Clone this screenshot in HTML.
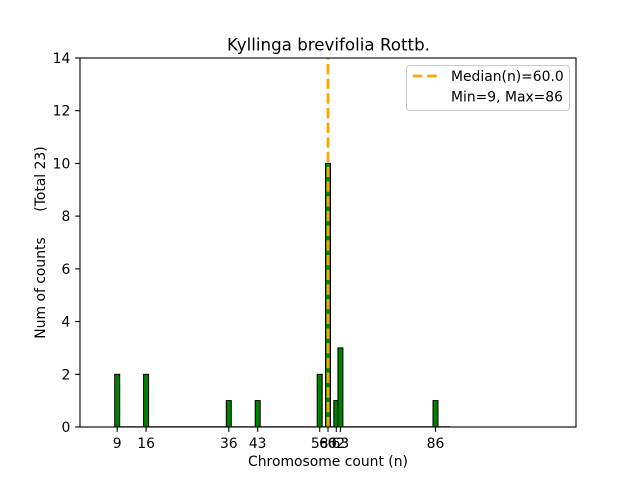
<!DOCTYPE html>
<html>
<head>
<meta charset="utf-8">
<style>
  html,body{margin:0;padding:0;background:#fff;}
  svg{display:block;}
  text{font-family:"DejaVu Sans","Liberation Sans",sans-serif;fill:#000;}
</style>
</head>
<body>
<svg width="640" height="480" viewBox="0 0 640 480" xmlns="http://www.w3.org/2000/svg">
  <rect x="0" y="0" width="640" height="480" fill="#fff"/>

  <!-- zero-height bar edges -->
  <line x1="115" y1="426.5" x2="450" y2="426.5" stroke="#909090" stroke-width="1"/>

  <!-- bars -->
  <g fill="#008000" stroke="#000" stroke-width="1">
    <rect x="114.7" y="374.3" width="5" height="52.7"/>
    <rect x="143.6" y="374.3" width="5" height="52.7"/>
    <rect x="226.3" y="400.6" width="5" height="26.4"/>
    <rect x="255.2" y="400.6" width="5" height="26.4"/>
    <rect x="317.2" y="374.3" width="5" height="52.7"/>
    <rect x="325.5" y="163.4" width="5" height="263.6"/>
    <rect x="333.8" y="400.6" width="5" height="26.4"/>
    <rect x="337.9" y="347.9" width="5" height="79.1"/>
    <rect x="433" y="400.6" width="5" height="26.4"/>
  </g>

  <!-- median line -->
  <line x1="328" y1="427" x2="328" y2="58" stroke="#ffa500" stroke-width="2.78" stroke-dasharray="10.3 4.4"/>

  <!-- axes frame -->
  <rect x="80" y="58" width="496" height="369" fill="none" stroke="#000" stroke-width="1.1"/>

  <!-- x ticks -->
  <g stroke="#000" stroke-width="1.1">
    <line x1="117.2" y1="427" x2="117.2" y2="431.9"/>
    <line x1="146.1" y1="427" x2="146.1" y2="431.9"/>
    <line x1="228.8" y1="427" x2="228.8" y2="431.9"/>
    <line x1="257.7" y1="427" x2="257.7" y2="431.9"/>
    <line x1="319.7" y1="427" x2="319.7" y2="431.9"/>
    <line x1="328" y1="427" x2="328" y2="431.9"/>
    <line x1="336.3" y1="427" x2="336.3" y2="431.9"/>
    <line x1="340.4" y1="427" x2="340.4" y2="431.9"/>
    <line x1="435.5" y1="427" x2="435.5" y2="431.9"/>
  </g>
  <g font-size="13.9" text-anchor="middle">
    <text x="117.2" y="448">9</text>
    <text x="146.1" y="448">16</text>
    <text x="228.8" y="448">36</text>
    <text x="257.7" y="448">43</text>
    <text x="319.7" y="448">58</text>
    <text x="328" y="448">60</text>
    <text x="336.3" y="448">62</text>
    <text x="340.4" y="448">63</text>
    <text x="435.5" y="448">86</text>
  </g>

  <!-- y ticks -->
  <g stroke="#000" stroke-width="1.1">
    <line x1="75.1" y1="427" x2="80" y2="427"/>
    <line x1="75.1" y1="374.3" x2="80" y2="374.3"/>
    <line x1="75.1" y1="321.6" x2="80" y2="321.6"/>
    <line x1="75.1" y1="268.9" x2="80" y2="268.9"/>
    <line x1="75.1" y1="216.1" x2="80" y2="216.1"/>
    <line x1="75.1" y1="163.4" x2="80" y2="163.4"/>
    <line x1="75.1" y1="110.7" x2="80" y2="110.7"/>
    <line x1="75.1" y1="58" x2="80" y2="58"/>
  </g>
  <g font-size="13.9" text-anchor="end">
    <text x="70.3" y="432">0</text>
    <text x="70.3" y="379.3">2</text>
    <text x="70.3" y="326.6">4</text>
    <text x="70.3" y="273.9">6</text>
    <text x="70.3" y="221.1">8</text>
    <text x="70.3" y="168.4">10</text>
    <text x="70.3" y="115.7">12</text>
    <text x="70.3" y="63">14</text>
  </g>

  <!-- labels -->
  <text x="328.5" y="50.5" font-size="16.7" text-anchor="middle">Kyllinga brevifolia Rottb.</text>
  <text x="328" y="466" font-size="13.9" text-anchor="middle">Chromosome count (n)</text>
  <text transform="translate(45,288) rotate(-90)" font-size="13.9" text-anchor="middle">Num of counts</text>
  <text transform="translate(45,179) rotate(-90)" font-size="13.9" text-anchor="middle">(Total 23)</text>

  <!-- legend -->
  <rect x="406.5" y="65.5" width="163" height="45" rx="3" ry="3" fill="#fff" fill-opacity="0.8" stroke="#cccccc" stroke-width="1"/>
  <line x1="412.7" y1="76" x2="436.7" y2="76" stroke="#ffa500" stroke-width="2.78" stroke-dasharray="9.5 5"/>
  <text x="451" y="81" font-size="13.9">Median(n)=60.0</text>
  <text x="451" y="101.5" font-size="13.9">Min=9, Max=86</text>
</svg>
</body>
</html>
